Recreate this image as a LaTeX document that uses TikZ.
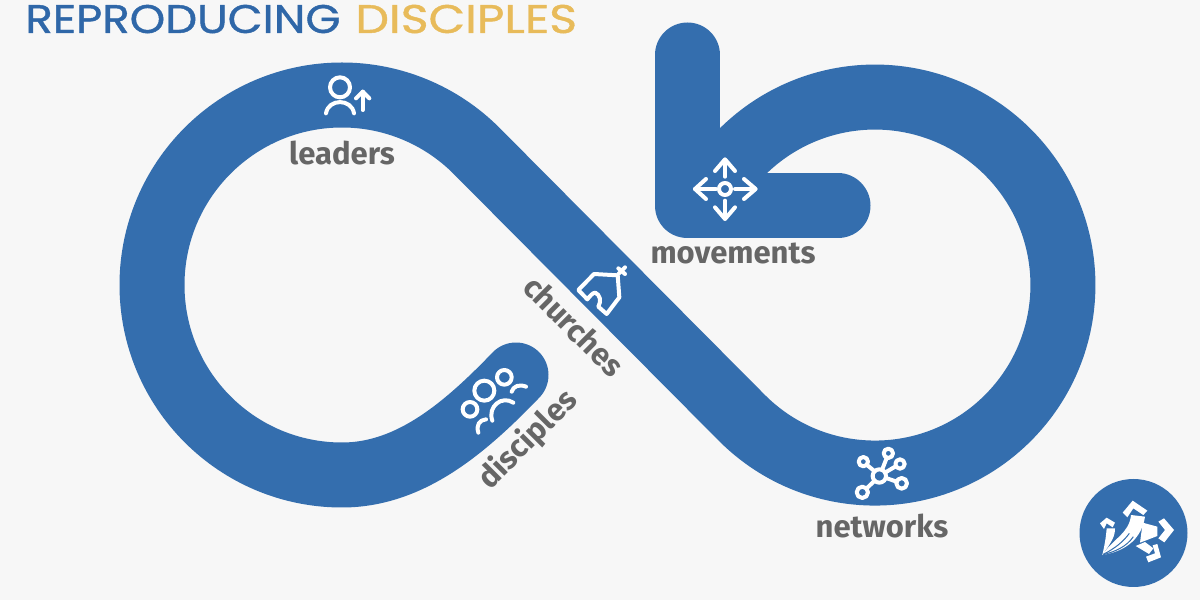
\documentclass[tikz,border=0pt]{standalone}
\usepackage{fontspec}
\usetikzlibrary{positioning}
\setmainfont{Fira Sans}
\newfontfamily\titlefont[FakeStretch=1.13,FakeBold=1]{Poppins}
\definecolor{bandblue}{HTML}{346EAE}
\definecolor{titleblue}{HTML}{2F67A8}
\definecolor{titlegold}{HTML}{E8BB5A}
\definecolor{taggray}{HTML}{666666}
\definecolor{paper}{HTML}{F7F7F7}

\begin{document}
\begin{tikzpicture}[
    x=0.5pt, y=0.5pt,
    band/.style={draw=bandblue, line width=32.5pt, line cap=round, line join=round},
    tag/.style={font=\bfseries\fontsize{15.5}{15.5}\selectfont, text=taggray, inner sep=0pt},
    headline/.style={font=\titlefont\fontsize{20}{20}\selectfont, inner sep=0pt},
    icon/.style={draw=white, line width=2pt, line cap=round, line join=round},
    crop/.style 2 args={shift={(#1,600-#2)}, x=0.16667pt, y=-0.16667pt}
]

% Paper
\fill[paper] (0,0) rectangle (1200,600);
\useasboundingbox (0,0) rectangle (1200,600);

% Title
\node[headline, text=titleblue, anchor=base west] (titlea) at (25,567) {REPRODUCING};
\node[headline, text=titlegold, xscale=1.05, base right=7pt of titlea] (titleb) {DISCIPLES};

% Infinity band
\draw[band] (516,225) .. controls (465,172) and (410,125) .. (342,125)
    arc[start angle=270, end angle=45, radius=95pt] -- (742,182)
    arc[start angle=-135, end angle=145, radius=94pt];

% Arrow head
\draw[band] (687.5,545) -- (687.5,394) -- (838,394);

% Labels
\node[tag] (leaders) at (342,447) {leaders};
\node[tag] (movements) at (733,347) {movements};
\node[tag] (networks) at (882,74) {networks};
\node[tag, rotate=-45] (churches) at (574,274) {churches};
\node[tag, rotate=45] (disciples) at (528,160) {disciples};

% Leaders icon
\begin{scope}[crop={280}{60}]
\draw[icon] (180,82) circle[radius=5pt];
\draw[icon] (138,160) .. controls (145,115) and (215,115) .. (222,160);
\draw[icon] (248,150) -- (248,95);
\draw[icon] (228,115) -- (248,95) -- (268,115);
\end{scope}

% Movements icon
\begin{scope}[crop={640}{10}]
\draw[icon] (255,537) circle[radius=3pt];
\draw[icon] (255,500) -- (255,450);
\draw[icon] (225,483) -- (255,448) -- (285,483);
\draw[icon] (255,572) -- (255,625);
\draw[icon] (225,592) -- (255,627) -- (285,592);
\draw[icon] (228,537) -- (165,537);
\draw[icon] (198,507) -- (165,537) -- (198,567);
\draw[icon] (285,537) -- (345,537);
\draw[icon] (312,507) -- (347,537) -- (312,567);
\end{scope}

% Church and disciples icons
\begin{scope}[crop={450}{260}]
\draw[icon] (412,118) -- (385,90) -- (432,42) -- (503,46) -- (508,112) -- (470,162) -- (445,140)
    .. controls (455,122) and (450,105) .. (436,98) .. controls (428,98) and (420,108) .. (412,118);
\draw[icon] (505,42) -- (525,22);
\draw[icon] (505,25) -- (525,42);
\draw[icon] (60,448) circle[radius=3.67pt];
\draw[icon] (103,392) circle[radius=5pt];
\draw[icon] (163,352) circle[radius=3.67pt];
\draw[icon] (85,518) .. controls (78,495) and (88,480) .. (108,478);
\draw[icon] (127,482) .. controls (112,440) and (155,405) .. (190,428);
\draw[icon] (185,395) .. controls (190,378) and (208,372) .. (228,380);
\end{scope}

% Networks icon
\begin{scope}[crop={800}{440}]
\draw[icon] (238,108) circle[radius=3.33pt];
\draw[icon] (265,40) circle[radius=2.33pt];
\draw[icon] (300,72) circle[radius=2.33pt];
\draw[icon] (305,130) circle[radius=2.67pt];
\draw[icon] (187,157) circle[radius=2.83pt];
\draw[icon] (190,65) circle[radius=2.33pt];
\draw[icon] (246,90) -- (260,54);
\draw[icon] (255,98) -- (287,79);
\draw[icon] (258,114) -- (290,125);
\draw[icon] (224,122) -- (199,146);
\draw[icon] (224,94) -- (201,75);
\end{scope}

% Badge
\fill[bandblue] (1133.5,67) circle[radius=27pt];
\begin{scope}[crop={1070}{470}]
\fill[white] (158,128) -- (188,92) -- (232,122) -- (220,135) -- (190,115) -- (172,142) -- cycle;
\fill[white] (90,160) -- (110,143) -- (135,158) -- (128,172) -- (110,160) -- (102,177) -- cycle;
\fill[white] (265,155) -- (282,145) -- (312,180) -- (283,217) -- (265,205) -- (285,180) -- cycle;
\fill[white] (228,260) -- (235,277) -- (273,262) -- (262,222) -- (248,226) -- (255,250) -- cycle;
\fill[white] (97,255) .. controls (130,205) and (178,190) .. (183,135) -- (225,140)
    .. controls (218,185) and (190,240) .. (97,255) -- cycle;
\fill[white] (97,255) .. controls (105,220) and (108,200) .. (110,175) -- (135,175)
    .. controls (135,200) and (125,215) .. (97,255) -- cycle;
\fill[white] (218,158) -- (262,170) -- (262,198) -- (210,218) -- cycle;
\fill[white] (197,228) -- (225,216) -- (250,235) -- (237,252) -- cycle;
\draw[bandblue, line width=0.5pt] (100,253) .. controls (135,235) and (160,215) .. (178,190);
\draw[bandblue, line width=0.5pt] (100,254) .. controls (135,245) and (170,230) .. (190,200);
\end{scope}

\end{tikzpicture}
\end{document}
